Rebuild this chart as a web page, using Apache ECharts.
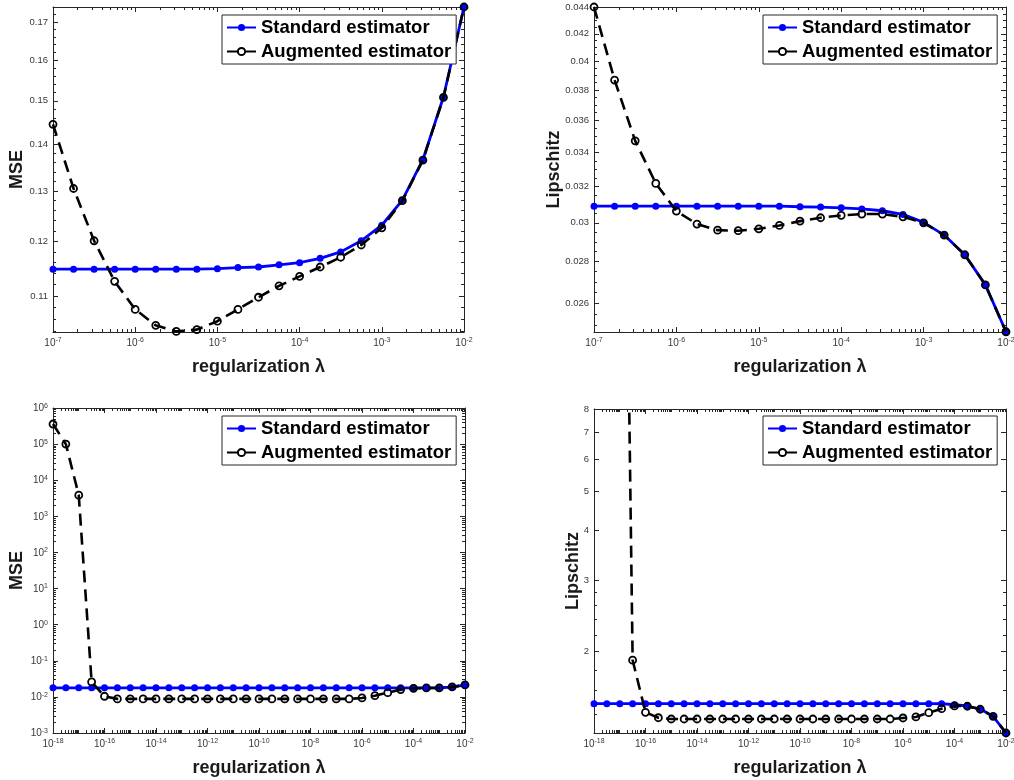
<!DOCTYPE html>
<html><head><meta charset="utf-8">
<script src="https://cdn.jsdelivr.net/npm/echarts@6/dist/echarts.min.js"></script>
<style>html,body{margin:0;padding:0;background:#fff}#c{width:1014px;height:780px}</style>
</head><body><div id="c"></div>
<script>
// ---------------- data ----------------
const lambdaTop = [1e-7,1.778e-7,3.162e-7,5.623e-7,1e-6,1.778e-6,3.162e-6,5.623e-6,1e-5,1.778e-5,3.162e-5,5.623e-5,1e-4,1.778e-4,3.162e-4,5.623e-4,1e-3,1.778e-3,3.162e-3,5.623e-3,1e-2];
const mseStandardTop = [0.1148,0.1148,0.1148,0.1148,0.1148,0.1148,0.1148,0.1148,0.1149,0.1151,0.1152,0.1156,0.1160,0.1168,0.1180,0.1201,0.1231,0.1281,0.1366,0.1509,0.1741];
const mseAugmentedTop = [0.1445,0.1305,0.1201,0.1126,0.1077,0.1050,0.1040,0.1043,0.1057,0.1077,0.1098,0.1118,0.1135,0.1152,0.1170,0.1193,0.1226,0.1280,0.1365,0.1508,0.1741];
const lipStandardTop = [0.03090,0.03090,0.03090,0.03090,0.03090,0.03090,0.03090,0.03090,0.03090,0.03090,0.03087,0.03085,0.03081,0.03075,0.03065,0.03045,0.03002,0.02935,0.02834,0.02686,0.02471];
const lipAugmentedTop = [0.04405,0.03868,0.03471,0.03218,0.03063,0.02993,0.02961,0.02958,0.02968,0.02986,0.03009,0.03027,0.03040,0.03047,0.03047,0.03032,0.03000,0.02935,0.02834,0.02686,0.02471];

const lambdaBottom = [1e-18,3.162e-18,1e-17,3.162e-17,1e-16,3.162e-16,1e-15,3.162e-15,1e-14,3.162e-14,1e-13,3.162e-13,1e-12,3.162e-12,1e-11,3.162e-11,1e-10,3.162e-10,1e-9,3.162e-9,1e-8,3.162e-8,1e-7,3.162e-7,1e-6,3.162e-6,1e-5,3.162e-5,1e-4,3.162e-4,1e-3,3.162e-3,1e-2];
const mseStandardBottom = [0.0178,0.0178,0.0178,0.0178,0.0178,0.0178,0.0178,0.0178,0.0178,0.0178,0.0178,0.0178,0.0178,0.0178,0.0178,0.0178,0.0178,0.0178,0.0178,0.0178,0.0178,0.0178,0.0178,0.0178,0.0178,0.0178,0.0178,0.0178,0.0178,0.0178,0.0179,0.0186,0.0214];
const mseAugmentedBottom = [3.6e5,1.0e5,3850,0.026,0.0104,0.0088,0.0088,0.0088,0.0088,0.0088,0.0088,0.0088,0.0088,0.0088,0.0088,0.0088,0.0088,0.0088,0.0088,0.0088,0.0088,0.0088,0.0088,0.0088,0.00935,0.0108,0.0131,0.0159,0.0173,0.0177,0.0177,0.0189,0.0214];
const lipStandardBottom = [1.485,1.485,1.485,1.485,1.485,1.485,1.485,1.485,1.485,1.485,1.485,1.485,1.485,1.485,1.485,1.485,1.485,1.485,1.485,1.485,1.485,1.485,1.485,1.485,1.485,1.485,1.485,1.484,1.476,1.465,1.440,1.381,1.2555];
const lipAugmentedBottom = [3.0e4,8.0e3,450,1.904,1.413,1.370,1.360,1.360,1.360,1.360,1.360,1.360,1.360,1.360,1.360,1.360,1.360,1.360,1.360,1.360,1.360,1.360,1.360,1.360,1.368,1.376,1.410,1.443,1.466,1.463,1.438,1.381,1.2555];

// tick labels
const xTicksTop = [1e-7,1e-6,1e-5,1e-4,1e-3,1e-2];
const xTicksBottom = [1e-18,1e-16,1e-14,1e-12,1e-10,1e-8,1e-6,1e-4,1e-2];
const yTicksMseTop = [0.11,0.12,0.13,0.14,0.15,0.16,0.17];
const yTicksLipTop = [0.026,0.028,0.03,0.032,0.034,0.036,0.038,0.04,0.042,0.044];
const yTicksMseBottom = [1e-3,1e-2,1e-1,1e0,1e1,1e2,1e3,1e4,1e5,1e6];
const yTicksLipBottom = [2,3,4,5,6,7,8];

const seriesNames = ['Standard estimator','Augmented estimator'];
const xTitle = 'regularization λ';

// ---------------- helpers ----------------
const FONT = '"Liberation Sans", Arial, Helvetica, sans-serif';
const AX = '#262626';
const LBL = '#383838';

function near(a, b){ return Math.abs(a-b) <= 1e-9*Math.max(Math.abs(a),Math.abs(b)); }
function logMinor(min, max, majors){
  const out = [];
  for (let d = Math.floor(Math.log10(min)); d <= Math.ceil(Math.log10(max)); d++) {
    for (let m = 1; m <= 9; m++) {
      const v = +(m*Math.pow(10,d)).toPrecision(8);
      if (v >= min && v <= max && !majors.some(t => near(t,v))) out.push(v);
    }
  }
  return out;
}
function linMinor(from, to, step, majors){
  const out = [];
  const n = Math.round((to-from)/step);
  for (let i = 0; i <= n; i++) {
    const v = +(from + i*step).toFixed(6);
    if (!majors.some(t => near(t,v))) out.push(v);
  }
  return out;
}
function supFmt(v){ return '{b|10}{s|' + Math.round(Math.log10(v)) + '}'; }
const supRich = {
  b: {fontSize: 10, lineHeight: 11, verticalAlign: 'bottom', padding: [4,0,0,0], color: LBL, fontFamily: FONT},
  s: {fontSize: 7, lineHeight: 8, verticalAlign: 'top', color: LBL, fontFamily: FONT}
};

function axisSet(dim, g, cfg){
  const pos = dim === 'x' ? ['bottom','top'] : ['left','right'];
  const base = {type:'log', logBase:10, gridIndex:g, min:cfg.min, max:cfg.max, silent:true,
    splitLine:{show:false}, minorTick:{show:false}, minorSplitLine:{show:false}, axisPointer:{show:false}};
  const tickStyle = {color: AX, width: 1};
  const main = Object.assign({}, base, {
    position: pos[0],
    axisLine: {show:true, lineStyle: tickStyle},
    axisTick: {show:true, inside:true, length:5, customValues: cfg.major, lineStyle: tickStyle},
    axisLabel: {show:true, customValues: cfg.major, formatter: cfg.fmt, rich: cfg.rich,
      margin: cfg.margin, color: LBL, fontSize: 9.5, fontFamily: FONT},
    name: cfg.name, nameLocation:'middle', nameGap: cfg.nameGap, nameMoveOverlap:false,
    nameTextStyle: {fontSize:18, fontWeight:'bold', color:'#1a1a1a', fontFamily: FONT}
  });
  const mirror = Object.assign({}, base, {
    position: pos[1],
    axisLine: {show:true, lineStyle: tickStyle},
    axisTick: {show:true, inside:true, length:5, customValues: cfg.major, lineStyle: tickStyle},
    axisLabel: {show:false}
  });
  const minorA = Object.assign({}, base, {
    position: pos[0], axisLine:{show:false}, axisLabel:{show:false},
    axisTick: {show:true, inside:true, length:3, customValues: cfg.minor, lineStyle: tickStyle}
  });
  const minorB = Object.assign({}, base, {
    position: pos[1], axisLine:{show:false}, axisLabel:{show:false},
    axisTick: {show:true, inside:true, length:3, customValues: cfg.minor, lineStyle: tickStyle}
  });
  return [main, mirror, minorA, minorB];
}

function pairs(xs, ys){ return xs.map((x,i) => [x, ys[i]]); }
function stdSeries(g, xs, ys){
  return {type:'line', name: seriesNames[0], xAxisIndex:g*4, yAxisIndex:g*4, data: pairs(xs,ys),
    symbol:'circle', symbolSize:7, showSymbol:true, clip:true, z:2,
    lineStyle:{color:'#0000ff', width:2.8}, itemStyle:{color:'#0000ff'},
    emphasis:{disabled:true}};
}
function augSeries(g, xs, ys){
  return {type:'line', name: seriesNames[1], xAxisIndex:g*4, yAxisIndex:g*4, data: pairs(xs,ys),
    symbol:'circle', symbolSize:7, showSymbol:true, clip:true, z:3,
    lineStyle:{color:'#000000', width:2.6, type:[12,7]},
    itemStyle:{color:'rgba(255,255,255,0)', borderColor:'#000000', borderWidth:1.8},
    emphasis:{disabled:true}};
}

// ---------------- panels ----------------
const panels = [
  {grid:{left:53, top:7, width:411, height:325},
   x:{min:1e-7, max:1e-2, major:xTicksTop, minor:logMinor(1e-7,1e-2,xTicksTop), fmt:supFmt, rich:supRich, margin:5, name:xTitle, nameGap:26},
   y:{min:0.1039, max:0.1741, major:yTicksMseTop, minor:linMinor(0.104,0.174,0.002,yTicksMseTop), fmt:v=>(+v).toFixed(2), margin:5, name:'MSE', nameGap:27},
   xs:lambdaTop, std:mseStandardTop, aug:mseAugmentedTop, legend:{left:222, top:15}},
  {grid:{left:594, top:7, width:412, height:325},
   x:{min:1e-7, max:1e-2, major:xTicksTop, minor:logMinor(1e-7,1e-2,xTicksTop), fmt:supFmt, rich:supRich, margin:5, name:xTitle, nameGap:26},
   y:{min:0.0247, max:0.04405, major:yTicksLipTop, minor:linMinor(0.025,0.044,0.0005,yTicksLipTop), fmt:v=>String(+(+v).toFixed(3)), margin:5, name:'Lipschitz', nameGap:31},
   xs:lambdaTop, std:lipStandardTop, aug:lipAugmentedTop, legend:{left:763, top:15}},
  {grid:{left:53, top:408, width:412, height:325},
   x:{min:1e-18, max:1e-2, major:xTicksBottom, minor:logMinor(1e-18,1e-2,xTicksBottom), fmt:supFmt, rich:supRich, margin:5, name:xTitle, nameGap:26},
   y:{min:1e-3, max:1e6, major:yTicksMseBottom, minor:logMinor(1e-3,1e6,yTicksMseBottom), fmt:supFmt, rich:supRich, margin:5, name:'MSE', nameGap:27},
   xs:lambdaBottom, std:mseStandardBottom, aug:mseAugmentedBottom, legend:{left:222, top:416}},
  {grid:{left:594, top:409, width:412, height:324},
   x:{min:1e-18, max:1e-2, major:xTicksBottom, minor:logMinor(1e-18,1e-2,xTicksBottom), fmt:supFmt, rich:supRich, margin:5, name:xTitle, nameGap:26},
   y:{min:1.2555, max:8, major:yTicksLipBottom, minor:linMinor(1.4,2.8,0.2,yTicksLipBottom), fmt:v=>String(Math.round(v)), margin:5, name:'Lipschitz', nameGap:12},
   xs:lambdaBottom, std:lipStandardBottom, aug:lipAugmentedBottom, legend:{left:763, top:416}}
];

const option = {
  animation:false,
  backgroundColor:'#ffffff',
  textStyle:{fontFamily: FONT},
  grid: [], xAxis: [], yAxis: [], series: [], legend: []
};
panels.forEach((p, g) => {
  option.grid.push(Object.assign({containLabel:false, outerBoundsMode:'none'}, p.grid));
  option.xAxis.push(...axisSet('x', g, p.x));
  option.yAxis.push(...axisSet('y', g, p.y));
  option.series.push(stdSeries(g, p.xs, p.std), augSeries(g, p.xs, p.aug));
  option.legend.push({
    left:p.legend.left, top:p.legend.top, orient:'vertical', data: seriesNames,
    selectedMode:false, backgroundColor:'#ffffff', borderColor:'#262626', borderWidth:1,
    padding:[3,5,3,4], itemGap:5, itemWidth:29, itemHeight:9,
    textStyle:{fontSize:18.5, fontWeight:'bold', color:'#000000', fontFamily: FONT}
  });
});

const chart = echarts.init(document.getElementById('c'), null, {renderer:'canvas'});
chart.setOption(option);
</script>
</body></html>
